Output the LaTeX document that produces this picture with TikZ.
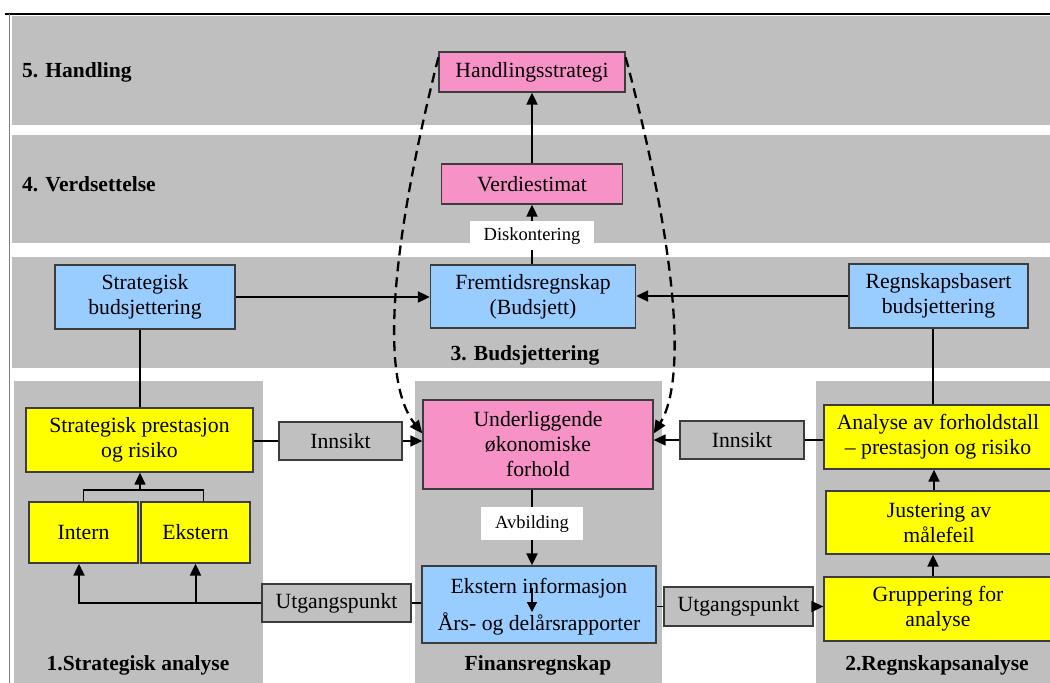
\documentclass[tikz,border=0pt]{standalone}
\usepackage{fontspec}
\setmainfont{Liberation Serif}
\usetikzlibrary{arrows.meta}
\definecolor{bandc}{RGB}{191,191,191}
\definecolor{pinkc}{RGB}{247,146,198}
\definecolor{bluec}{RGB}{153,204,255}
\definecolor{yelc}{RGB}{255,255,0}
\definecolor{grayc}{RGB}{192,192,192}
\definecolor{edgec}{RGB}{60,60,60}
\tikzset{
  box/.style={draw=edgec, line width=1.3pt, inner sep=0pt, align=center,
    font=\fontsize{21.7}{25}\selectfont},
  pinkbox/.style={box, fill=pinkc},
  bluebox/.style={box, fill=bluec},
  yelbox/.style={box, fill=yelc},
  graybox/.style={box, fill=grayc},
  lbl/.style={fill=white, inner sep=0pt, font=\fontsize{18.5}{21}\selectfont},
  txt/.style={inner sep=0pt, align=center, font=\fontsize{21.7}{25}\selectfont},
  ttl/.style={inner sep=0pt, font=\fontsize{21.5}{25}\selectfont\bfseries},
  band/.style={fill=bandc, draw=none},
  arr/.style={line width=2pt, -{Triangle[length=12pt,width=11pt]}},
  arrthin/.style={line width=1.4pt, -{Triangle[length=12pt,width=11pt]}},
  thinline/.style={line width=1.4pt},
  thickline/.style={line width=2pt},
  dasharr/.style={line width=2.3pt, dash pattern=on 10pt off 6pt, -{Triangle[length=13pt,width=11pt]}}
}
\begin{document}
\begin{tikzpicture}[x=1pt,y=-1pt]
\useasboundingbox (0,0) rectangle (1050,683);
\fill[white] (0,0) rectangle (1050,683);
% bands and columns
\fill[bandc] (12,16) rectangle (1050,125);
\fill[bandc] (12,135) rectangle (1050,243);
\fill[bandc] (12,257) rectangle (1050,368);
\fill[bandc] (14,381) rectangle (263,683);
\fill[bandc] (415,381) rectangle (662,683);
\fill[bandc] (816,381) rectangle (1050,683);
\draw[line width=1.5pt] (5,14) -- (1050,14);
\draw[line width=0.8pt, gray] (9,14) -- (9,683);

% titles
\node[ttl, anchor=west] (t5) at (22,72) {5. Handling};
\node[ttl, anchor=west] (t4) at (22,184) {4. Verdsettelse};
\node[ttl] (t3) at (525,355) {3. Budsjettering};
\node[ttl] (t1) at (138,665) {1.Strategisk analyse};
\node[ttl] (t0) at (538,665) {Finansregnskap};
\node[ttl] (t2) at (937,665) {2.Regnskapsanalyse};

% nodes
\node[pinkbox, minimum width=186pt, minimum height=40pt] (hs) at (532,72) {Handlingsstrategi};
\node[pinkbox, minimum width=181pt, minimum height=40pt] (ve) at (532,184) {Verdiestimat};
\node[bluebox, minimum width=205pt, minimum height=63pt] (fr) at (533,296.5) {Fremtidsregnskap\\(Budsjett)};
\node[bluebox, minimum width=180pt, minimum height=64pt] (sb) at (145,297) {Strategisk\\budsjettering};
\node[bluebox, minimum width=179pt, minimum height=64pt] (rb) at (938.5,296) {Regnskapsbasert\\budsjettering};

\node[yelbox, minimum width=227pt, minimum height=64pt] (sp) at (139.5,440) {Strategisk prestasjon\\og risiko};
\node[yelbox, minimum width=109pt, minimum height=61pt] (in) at (83.5,532.5) {Intern};
\node[yelbox, minimum width=109pt, minimum height=61pt] (ek) at (195.5,532.5) {Ekstern};
\node[graybox, minimum width=123pt, minimum height=38pt] (innL) at (340.5,441) {Innsikt};
\node[graybox, minimum width=149pt, minimum height=38pt] (utL) at (336.5,603) {Utgangspunkt};

\node[pinkbox, minimum width=230pt, minimum height=89pt] (ul) at (538,444.5) {Underliggende\\økonomiske\\forhold};
\node[bluebox, minimum width=234pt, minimum height=77pt] (eib) at (539,604.5) {};
\node[txt] (e1) at (539,588) {Ekstern informasjon};
\node[txt] (e2) at (539,624) {Års- og delårsrapporter};

\node[graybox, minimum width=124pt, minimum height=38pt] (innR) at (742,440) {Innsikt};
\node[graybox, minimum width=149pt, minimum height=39pt] (utR) at (738.5,606.5) {Utgangspunkt};
\node[yelbox, minimum width=228pt, minimum height=64pt] (an) at (938,437) {Analyse av forholdstall\\– prestasjon og risiko};
\node[yelbox, minimum width=226pt, minimum height=63pt] (ju) at (939,522.5) {Justering av\\målefeil};
\node[yelbox, minimum width=228pt, minimum height=64pt] (gr) at (938,609) {Gruppering for\\analyse};

% connectors
\draw[arr] (ve.north) -- (hs.south);
\draw[arr] (fr.north -| ve.south) -- node[lbl, minimum width=124pt, minimum height=29pt, pos=0.48] (disk) {Diskontering} (ve.south);
\draw[arr] (sb.east) -- (sb.east -| fr.west);
\draw[arr] (rb.west) -- (rb.west -| fr.east);
\draw[thickline] (sp.north) -- (sp.north |- sb.south);
\draw[thickline] ([xshift=-5pt]an.north) -- ([xshift=-5pt]an.north |- rb.south);

\draw[thinline] (sp.east |- innL.west) -- (innL.west);
\draw[arrthin] (innL.east) -- (innL.east -| ul.west);
\draw[thinline] (an.west |- innR.east) -- (innR.east);
\draw[arrthin] (innR.west) -- (innR.west -| ul.east);

\coordinate (bj) at (140,490);
\draw[thinline] (in.north) |- (bj) -| ([xshift=8pt]ek.north);
\draw[arrthin] (bj) -- (bj |- sp.south);

\draw[thinline] (eib.west |- utL.east) -- (utL.east);
\draw[arr] (utL.west) -| ([xshift=-4.5pt]in.south);
\draw[arr] (ek.south |- utL.west) -- (ek.south);

\draw[thinline] (eib.east |- utR.west) -- (utR.west);
\draw[arrthin] (utR.east) -- (utR.east -| gr.west);

\draw[arr] ([xshift=-5pt]gr.north) -- ([xshift=-5pt]gr.north |- ju.south);
\draw[arr] ([xshift=-5pt]ju.north) -- ([xshift=-5pt]ju.north |- an.south);

\draw[arr] (ul.south -| ve.south) -- node[lbl, minimum width=102pt, minimum height=33pt, pos=0.45] (avb) {Avbilding} (eib.north -| ve.south);

\coordinate (ia) at (532,588);
\coordinate (ib) at (532,612);
\draw[line width=1.4pt, -{Triangle[length=10pt,width=10pt]}] (ia) -- (ib);

% dashed feedback arrows
\draw[dasharr] ([yshift=-6pt]hs.north west) .. controls (390,250) and (380,380) .. ([yshift=11pt]ul.west);
\draw[dasharr] ([yshift=-6pt]hs.north east) .. controls (677,250) and (687,380) .. ([yshift=11pt]ul.east);
\end{tikzpicture}
\end{document}
